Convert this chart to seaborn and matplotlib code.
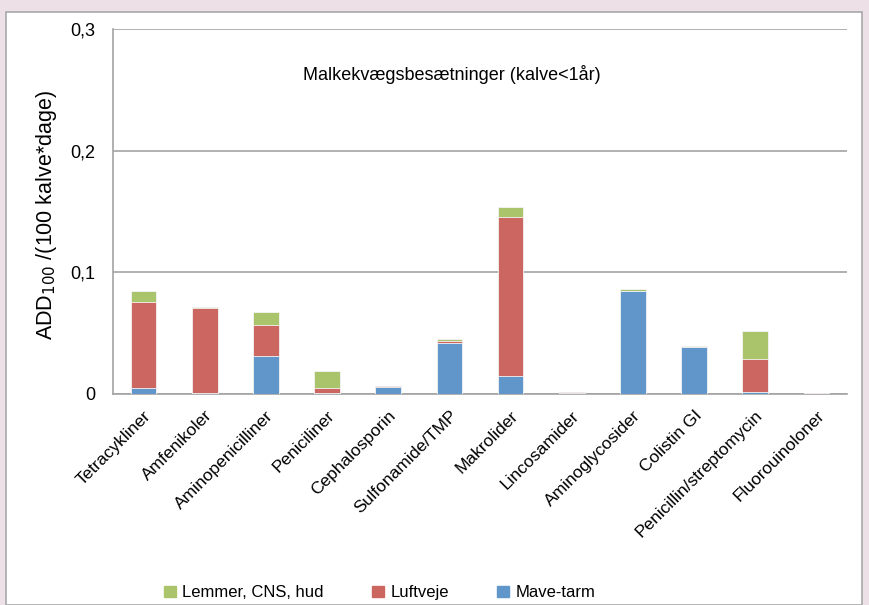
import numpy as np
import pandas as pd
import matplotlib
matplotlib.use('Agg')
import matplotlib.pyplot as plt
from matplotlib.patches import Rectangle, Patch
import seaborn as sns

categories = ['Tetracykliner', 'Amfenikoler', 'Aminopenicilliner', 'Peniciliner',
              'Cephalosporin', 'Sulfonamide/TMP', 'Makrolider', 'Lincosamider',
              'Aminoglycosider', 'Colistin GI', 'Penicillin/streptomycin', 'Fluorouinoloner']
mave_tarm = [0.005, 0.001, 0.031, 0.001, 0.0055, 0.042, 0.0148, 0.0012, 0.0843, 0.0386, 0.002, 0.0004]
luftveje = [0.071, 0.0697, 0.026, 0.004, 0.0008, 0.0013, 0.1303, 0.0003, 0.0005, 0.0002, 0.027, 0.0001]
lemmer = [0.009, 0.0008, 0.0104, 0.0137, 0.0005, 0.0022, 0.0088, 0.0003, 0.0012, 0.0006, 0.0225, 0.0001]

df = pd.DataFrame({'kategori': categories, 'Mave-tarm': mave_tarm,
                   'Luftveje': luftveje, 'Lemmer, CNS, hud': lemmer})
df['c_blue'] = df['Mave-tarm']
df['c_red'] = df['c_blue'] + df['Luftveje']
df['c_green'] = df['c_red'] + df['Lemmer, CNS, hud']

blue = '#6096C9'
red = '#CC6660'
green = '#AAC46C'

sns.set_style('white')
plt.rcParams['font.family'] = ['Liberation Sans', 'DejaVu Sans']
plt.rcParams['text.color'] = 'black'
plt.rcParams['axes.labelcolor'] = 'black'
plt.rcParams['xtick.labelcolor'] = 'black'
plt.rcParams['ytick.labelcolor'] = 'black'

fig = plt.figure(figsize=(8.69, 6.05), dpi=100, facecolor='#EDE0E6')
fig.patches.append(Rectangle((6 / 869, 0), 856 / 869, 593 / 605, transform=fig.transFigure,
                             facecolor='white', edgecolor='#A8A8A8', linewidth=1.2, zorder=-5))

ax = fig.add_axes([113 / 869, 1 - 394 / 605, 734 / 869, 365 / 605])
ax.set_facecolor('none')

# stacked bars: draw cumulative totals back to front
for col, c in [('c_green', green), ('c_red', red), ('c_blue', blue)]:
    sns.barplot(data=df, x='kategori', y=col, color=c, width=0.42, ax=ax,
                edgecolor='#F4F4F4', linewidth=0.6, saturation=1, zorder=3)

ax.set_ylim(0, 0.3)
ax.set_xlim(-0.5, len(categories) - 0.5)
ax.set_yticks([0, 0.1, 0.2, 0.3])
ax.set_yticklabels(['0', '0,1', '0,2', '0,3'], fontsize=13)
ax.yaxis.grid(True, color='#A3A3A3', linewidth=1.2, zorder=0)
ax.set_axisbelow(True)

ax.set_xticks(range(len(categories)))
ax.set_xticklabels(categories, rotation=45, ha='right', rotation_mode='anchor', fontsize=12.5)
ax.set_xticks(np.arange(-0.5, len(categories)), minor=True)
ax.tick_params(axis='x', which='major', length=0, pad=10)
ax.tick_params(axis='x', which='minor', length=7, color='#A3A3A3', width=1.2)
ax.tick_params(axis='y', length=7, color='#A3A3A3', width=1.2, pad=6)

for s in ['top', 'right']:
    ax.spines[s].set_visible(False)
for s in ['left', 'bottom']:
    ax.spines[s].set_color('#A3A3A3')
    ax.spines[s].set_linewidth(1.2)

ax.set_xlabel('')
ax.set_ylabel('ADD$_{100}$ /(100 kalve*dage)', fontsize=15.5)
ax.yaxis.set_label_coords(-0.073, 0.49)
ax.text(0.462, 0.874, 'Malkekvægsbesætninger (kalve<1år)', transform=ax.transAxes,
        ha='center', va='center', fontsize=13)

handles = [Patch(color=green, label='Lemmer, CNS, hud'),
           Patch(color=red, label='Luftveje'),
           Patch(color=blue, label='Mave-tarm')]
fig.legend(handles=handles, loc='center', bbox_to_anchor=(0.437, 0.02), ncol=3,
           frameon=False, fontsize=12, handlelength=0.7, handleheight=0.7,
           handletextpad=0.4, columnspacing=2.9)

fig.savefig('out.png', dpi=100, facecolor=fig.get_facecolor())
